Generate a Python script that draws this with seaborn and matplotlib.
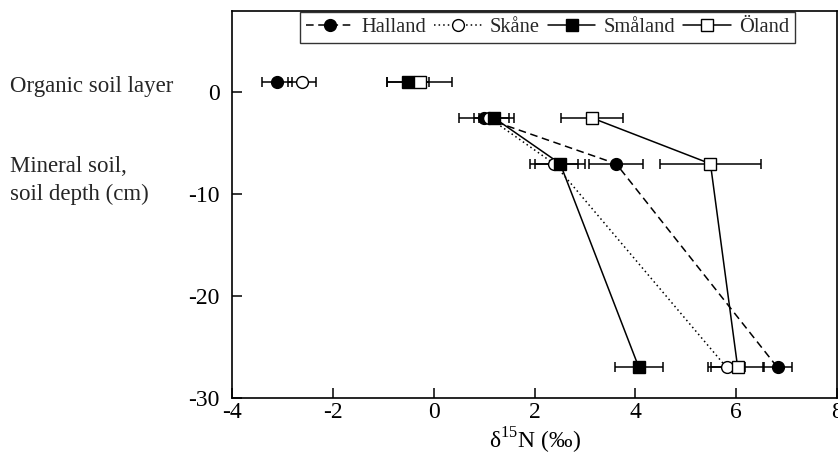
import matplotlib
matplotlib.use("Agg")
import matplotlib.pyplot as plt
import seaborn as sns
import pandas as pd
from matplotlib.lines import Line2D

# ---- data ----
sites = ["Halland", "Skåne", "Småland", "Öland"]
depth = [1, -2.5, -7, -27]          # first value = organic soil layer
halland_x = [-3.10, 1.00, 3.62, 6.82]
halland_err = [0.30, 0.50, 0.53, 0.29]
skane_x = [-2.61, 1.10, 2.39, 5.81]
skane_err = [0.27, 0.20, 0.48, 0.37]
smaland_x = [-0.51, 1.20, 2.51, 4.07]
smaland_err = [0.42, 0.40, 0.50, 0.48]
oland_x = [-0.28, 3.14, 5.49, 6.03]
oland_err = [0.65, 0.61, 1.00, 0.52]
xticks = [-4, -2, 0, 2, 4, 6, 8]
yticks = [0, -10, -20, -30]

sns.set_theme(style="ticks")
plt.rcParams["font.family"] = ["Liberation Serif", "DejaVu Serif"]
plt.rcParams["mathtext.fontset"] = "custom"
plt.rcParams["mathtext.rm"] = "Liberation Serif"

FS = 16.5
TFS = 17
LFS = 14.8
fig = plt.figure(figsize=(8.38, 4.61), dpi=100)
ax = fig.add_axes([232/838, 1-398/461, 605/838, 387/461])

xs = [halland_x, skane_x, smaland_x, oland_x]
errs = [halland_err, skane_err, smaland_err, oland_err]
markers = ["o", "o", "s", "s"]
faces = ["black", "white", "black", "white"]
dashes = [(5, 3), (1, 2), "", ""]
styles = ["--", ":", "-", "-"]
msizes = [8.5, 8.5, 9, 9]

rows = []
for s, xv, ev in zip(sites, xs, errs):
    for i, (x, e, d) in enumerate(zip(xv, ev, depth)):
        rows.append(dict(site=s, x=x, err=e, depth=d, layer="org" if i == 0 else "min"))
df = pd.DataFrame(rows)

handles = []
for k, s in enumerate(sites):
    sub = df[df.site == s]
    mineral = sub[sub.layer == "min"]
    # connecting line through mineral soil depths
    sns.lineplot(data=mineral, x="x", y="depth", sort=False, ax=ax, color="black",
                 lw=1.1, linestyle=styles[k], estimator=None, legend=False, zorder=2 + k)
    if dashes[k]:
        ax.lines[-1].set_dashes(dashes[k])
    # error bars
    ax.errorbar(sub["x"], sub["depth"], xerr=sub["err"], fmt="none", ecolor="black",
                elinewidth=1.1, capsize=3.6, capthick=1.1, zorder=2 + k)
    # markers
    ax.plot(sub["x"], sub["depth"], linestyle="none", marker=markers[k],
            markersize=msizes[k], markerfacecolor=faces[k], markeredgecolor="black",
            markeredgewidth=1.0, zorder=10 + k)
    h = Line2D([], [], color="black", lw=1.1, linestyle=styles[k], marker=markers[k],
               markersize=msizes[k], markerfacecolor=faces[k], markeredgecolor="black")
    if dashes[k]:
        h.set_dashes(dashes[k])
    handles.append(h)

ax.set_xlim(-4, 8)
ax.set_ylim(-30, 8)
ax.set_xticks(xticks)
ax.set_yticks(yticks)
ax.set_xticklabels([str(t) for t in xticks])
ax.set_yticklabels([str(t) for t in yticks])
ax.tick_params(direction="in", length=7, width=1.1, labelsize=TFS, colors="black")
ax.tick_params(axis="y", pad=9)
ax.tick_params(axis="x", pad=3)
for sp in ax.spines.values():
    sp.set_visible(True)
    sp.set_color("black")
    sp.set_linewidth(1.2)
ax.set_xlabel("δ$^{15}$N (‰)", fontsize=TFS, color="black", labelpad=2)
ax.set_ylabel("")

leg = ax.legend(handles, sites, loc="upper right", bbox_to_anchor=(0.931, 0.998),
                ncol=4, fontsize=LFS, frameon=True, fancybox=False, edgecolor="black",
                borderaxespad=0, handlelength=2.3, handletextpad=0.4, columnspacing=0.4,
                borderpad=0.3)
leg.get_frame().set_linewidth(1.0)

fig.text(10/838, 1-92/461, "Organic soil layer", fontsize=FS, va="baseline", ha="left")
fig.text(10/838, 1-172/461, "Mineral soil,", fontsize=FS, va="baseline", ha="left")
fig.text(10/838, 1-200/461, "soil depth (cm)", fontsize=FS, va="baseline", ha="left")

fig.savefig("out.png", dpi=100)
